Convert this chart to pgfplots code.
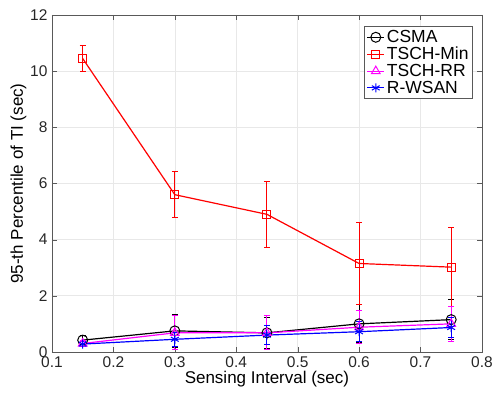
\documentclass[border=0pt]{standalone}
\usepackage{pgfplots}
\pgfplotsset{compat=1.18}
\usepackage{fontspec}
\setmainfont{Liberation Sans}
\definecolor{mag}{RGB}{255,0,255}
\begin{document}
\begin{tikzpicture}
\begin{axis}[
  scale only axis, width=430pt, height=337pt,
  xmin=0.1, xmax=0.8, ymin=0, ymax=12,
  xtick={0.1,0.2,...,0.8}, ytick={0,2,...,12},
  xticklabels={0.1,0.2,0.3,0.4,0.5,0.6,0.7,0.8},
  grid=major, major grid style={gray!18, line width=0.6pt},
  axis line style={gray!70!black, line width=0.6pt},
  tick style={gray!70!black},
  tick align=inside, major tick length=5pt,
  ticklabel style={font=\fontsize{15.5}{17}\selectfont, text=black!85},
  xticklabel style={yshift=-1pt},
  yticklabel style={xshift=-1pt},
  /pgf/number format/assume math mode=true,
  xlabel={Sensing Interval (sec)}, ylabel={95-th Percentile of TI (sec)},
  label style={font=\fontsize{17}{19}\selectfont},
  xlabel style={yshift=3pt}, ylabel style={yshift=-3pt},
  legend style={at={(0.979,0.967)}, anchor=north east, draw=gray!70!black, line width=0.6pt,
    font=\fontsize{17.5}{20}\selectfont, inner sep=2pt, row sep=-1pt, cells={anchor=west}},
  error bars/y dir=both, error bars/y explicit,
  error bars/error bar style={line width=1pt},
  error bars/error mark options={rotate=90, mark size=3pt, line width=1pt},
]
\addplot[black, line width=1.2pt, mark=o, mark size=5pt, mark options={solid, line width=1pt}]
  coordinates {
  (0.15,0.42) +- (0,0.15)
  (0.30,0.75) +- (0,0.60)
  (0.45,0.68) +- (0,0.55)
  (0.60,1.00) +- (0,0.68)
  (0.75,1.15) +- (0,0.70)
  };
\addplot[red, line width=1.2pt, mark=square, mark size=4pt, mark options={solid, line width=1pt}]
  coordinates {
  (0.15,10.45) +- (0,0.45)
  (0.30,5.60) +- (0,0.82)
  (0.45,4.90) +- (0,1.18)
  (0.60,3.15) +- (0,1.45)
  (0.75,3.02) +- (0,1.40)
  };
\addplot[mag, line width=1.2pt, mark=triangle, mark size=5pt, mark options={solid, line width=1pt}]
  coordinates {
  (0.15,0.30) +- (0,0.12)
  (0.30,0.68) +- (0,0.60)
  (0.45,0.68) +- (0,0.60)
  (0.60,0.88) +- (0,0.58)
  (0.75,1.00) +- (0,0.62)
  };
\addplot[blue, line width=1.2pt, mark=asterisk, mark size=4.5pt, mark options={solid, line width=1pt}]
  coordinates {
  (0.15,0.28) +- (0,0.10)
  (0.30,0.45) +- (0,0.25)
  (0.45,0.60) +- (0,0.35)
  (0.60,0.72) +- (0,0.35)
  (0.75,0.87) +- (0,0.35)
  };
\legend{CSMA,TSCH-Min,TSCH-RR,R-WSAN}
\end{axis}
\path[use as bounding box] (-52pt,-46pt) rectangle (444pt,352pt);
\end{tikzpicture}
\end{document}
